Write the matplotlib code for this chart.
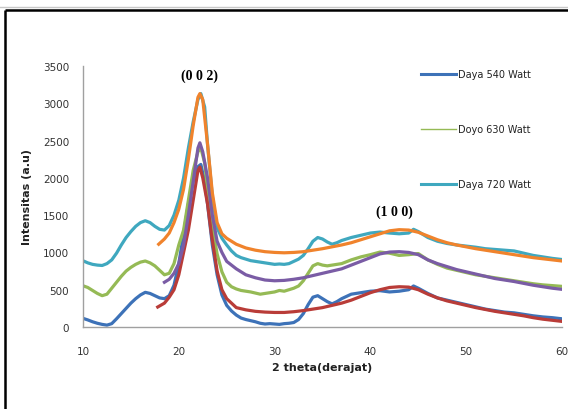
import matplotlib
matplotlib.use("Agg")
import matplotlib.pyplot as plt
from matplotlib.lines import Line2D

# raw XRD data
x540 = [10, 10.5, 11, 11.5, 12, 12.5, 13, 13.5, 14, 14.5, 15, 15.5, 16, 16.5, 17, 17.5, 18, 18.5, 19, 19.5,
        20, 20.5, 21, 21.5, 22, 22.3, 22.7, 23, 23.5, 24, 24.5, 25, 25.5, 26, 26.5, 27, 27.5, 28, 28.5, 29,
        29.5, 30, 30.5, 31, 31.5, 32, 32.5, 33, 33.5, 34, 34.5, 35, 35.5, 36, 36.5, 37, 38, 39, 40, 41,
        42, 43, 44, 44.5, 45, 46, 47, 48, 49, 50, 51, 52, 53, 54, 55, 56, 57, 58, 59, 60]
y540 = [116, 95, 70, 50, 35, 25, 45, 110, 180, 250, 320, 380, 430, 465, 450, 420, 390, 380, 420, 560,
        850, 1250, 1650, 1950, 2150, 2180, 1950, 1650, 1100, 700, 430, 290, 215, 160, 120, 100, 85, 70, 50, 40,
        45, 40, 35, 45, 50, 60, 100, 180, 300, 400, 420, 380, 340, 310, 340, 380, 440, 460, 480, 487,
        470, 480, 500, 550, 520, 450, 390, 360, 330, 300, 270, 240, 220, 200, 190, 170, 150, 135, 125, 110]

x630 = [10, 10.5, 11, 11.5, 12, 12.5, 13, 13.5, 14, 14.5, 15, 15.5, 16, 16.5, 17, 17.5, 18, 18.5, 19, 19.5,
        20, 20.5, 21, 21.5, 22, 22.3, 22.7, 23, 23.5, 24, 24.5, 25, 25.5, 26, 26.5, 27, 27.5, 28, 28.5, 29,
        29.5, 30, 30.5, 31, 31.5, 32, 32.5, 33, 33.5, 34, 34.5, 35, 35.5, 36, 37, 38, 39, 40, 41, 42,
        43, 44, 45, 46, 47, 48, 49, 50, 51, 52, 53, 54, 55, 56, 57, 58, 59, 60]
y630 = [553, 530, 490, 450, 420, 440, 520, 600, 680, 750, 800, 840, 870, 885, 860, 820, 760, 700, 720, 850,
        1100, 1300, 1700, 2100, 2350, 2400, 2200, 1850, 1350, 980, 740, 600, 540, 510, 490, 480, 470, 455, 440, 450,
        460, 470, 490, 480, 500, 520, 550, 620, 720, 820, 850, 830, 820, 830, 850, 900, 940, 970, 1005, 990,
        960, 970, 985, 900, 840, 790, 760, 730, 700, 680, 660, 640, 620, 600, 580, 565, 555, 545]

x720 = [10, 10.5, 11, 11.5, 12, 12.5, 13, 13.5, 14, 14.5, 15, 15.5, 16, 16.5, 17, 17.5, 18, 18.5, 19, 19.5,
        20, 20.5, 21, 21.5, 22, 22.3, 22.7, 23, 23.5, 24, 24.5, 25, 25.5, 26, 26.5, 27, 27.5, 28, 28.5, 29,
        29.5, 30, 30.5, 31, 31.5, 32, 32.5, 33, 33.5, 34, 34.5, 35, 35.5, 36, 36.5, 37, 38, 39, 40, 41,
        42, 43, 44, 44.5, 45, 46, 47, 48, 49, 50, 51, 52, 53, 54, 55, 56, 57, 58, 59, 60]
y720 = [888, 860, 840, 830, 825, 850, 900, 990, 1100, 1200, 1280, 1350, 1400, 1425, 1400, 1350, 1310, 1300, 1360, 1500,
        1700, 2000, 2400, 2750, 3050, 3130, 2950, 2450, 1750, 1330, 1190, 1100, 1020, 960, 930, 910, 890, 880, 870, 860,
        850, 840, 845, 840, 850, 880, 910, 960, 1050, 1150, 1200, 1180, 1140, 1110, 1130, 1160, 1200, 1230, 1260, 1273,
        1260, 1250, 1260, 1310, 1280, 1200, 1150, 1120, 1100, 1085, 1070, 1050, 1040, 1030, 1020, 990, 960, 940, 920, 905]

# fitted curves
xf540 = [17.8, 18.5, 19, 19.5, 20, 20.5, 21, 21.5, 22, 22.2, 22.5, 23, 23.4, 24, 24.5, 25, 26, 27, 28, 29,
         30, 31, 32, 33, 34, 35, 36, 37, 38, 39, 40, 41, 42, 43, 44, 45, 46, 47, 48, 49,
         50, 51, 52, 53, 54, 55, 56, 57, 58, 59, 60]
yf540 = [268, 320, 400, 500, 700, 1000, 1300, 1700, 2100, 2145, 2000, 1650, 1250, 750, 500, 380, 260, 230, 210, 200,
         195, 195, 205, 220, 240, 260, 290, 320, 360, 410, 460, 500, 530, 540, 535, 500, 440, 390, 350, 320,
         290, 260, 235, 210, 190, 170, 150, 125, 105, 90, 75]

xf630 = [18.5, 19, 19.5, 20, 20.5, 21, 21.5, 22, 22.2, 22.5, 23, 23.5, 24, 24.5, 25, 26, 27, 28, 29, 30,
         31, 32, 33, 34, 35, 36, 37, 38, 39, 40, 41, 42, 43, 44, 45, 46, 47, 48, 49, 50,
         51, 52, 53, 54, 55, 56, 57, 58, 59, 60]
yf630 = [600, 640, 720, 850, 1100, 1500, 1950, 2400, 2470, 2350, 2000, 1500, 1150, 1000, 880, 780, 700, 660, 630, 620,
         625, 640, 660, 690, 720, 750, 780, 830, 880, 930, 980, 1005, 1010, 1000, 970, 900, 850, 810, 770, 740,
         710, 680, 650, 630, 610, 585, 560, 540, 520, 505]

xf720 = [17.9, 18.5, 19, 19.5, 20, 20.5, 21, 21.5, 22, 22.2, 22.5, 23, 23.5, 24, 24.5, 25, 25.5, 26, 27, 28,
         29, 30, 31, 32, 33, 34, 35, 36, 37, 38, 39, 40, 41, 42, 43, 44, 45, 46, 47, 48,
         49, 50, 51, 52, 53, 54, 55, 56, 57, 58, 59, 60]
yf720 = [1110, 1180, 1260, 1400, 1580, 1850, 2250, 2700, 3080, 3130, 3050, 2450, 1800, 1400, 1250, 1190, 1150, 1110, 1060, 1030,
         1010, 1000, 995, 1000, 1010, 1030, 1050, 1075, 1100, 1130, 1170, 1210, 1250, 1290, 1305, 1300, 1270, 1220, 1170, 1130,
         1100, 1075, 1050, 1030, 1010, 990, 970, 950, 930, 915, 900, 885]

labels = ["Daya 540 Watt", "Doyo 630 Watt", "Daya 720 Watt"]

c_blue = "#3D72B8"
c_green = "#95BA55"
c_cyan = "#3FA8BF"
c_red = "#B93C38"
c_purple = "#7A5CA5"
c_orange = "#F0832C"

fig = plt.figure(figsize=(5.68, 4.10), dpi=100)
ax = fig.add_axes([83/568, 1 - 328/410, (562 - 83)/568, (328 - 67)/410])

lw = 2.3
ax.plot(x540, y540, color=c_blue, lw=lw, solid_joinstyle="round")
ax.plot(x630, y630, color=c_green, lw=lw, solid_joinstyle="round")
ax.plot(x720, y720, color=c_cyan, lw=lw, solid_joinstyle="round")
ax.plot(xf540, yf540, color=c_red, lw=lw)
ax.plot(xf630, yf630, color=c_purple, lw=lw)
ax.plot(xf720, yf720, color=c_orange, lw=lw)

ax.set_xlim(10, 60)
ax.set_ylim(0, 3500)
ax.set_xticks([10, 20, 30, 40, 50, 60])
ax.set_yticks(range(0, 3501, 500))
ax.tick_params(length=0, labelsize=7.5, colors="#333333", pad=10)
ax.tick_params(axis="x", pad=14)
for s in ["top", "right"]:
    ax.spines[s].set_visible(False)
for s in ["left", "bottom"]:
    ax.spines[s].set_color("#A0A0A0")
    ax.spines[s].set_linewidth(1)

ax.set_xlabel("2 theta(derajat)", fontsize=8, fontweight="bold", color="#222222", labelpad=4)
ax.set_ylabel("Intensitas (a.u)", fontsize=8, fontweight="bold", color="#222222", labelpad=8)

ax.text(22.2, 3370, "(0 0 2)", ha="center", va="center", fontsize=10, fontweight="bold",
        family="Liberation Serif")
ax.text(42.5, 1550, "(1 0 0)", ha="center", va="center", fontsize=10, fontweight="bold",
        family="Liberation Serif")

# legend drawn by hand (three entries, widely spaced)
leg_y = [75, 130, 185]
leg_c = [c_blue, c_green, c_cyan]
leg_w = [2.2, 1.0, 2.2]
for yy, cc, ww, lab in zip(leg_y, leg_c, leg_w, labels):
    fy = 1 - yy / 410
    fig.add_artist(Line2D([421/568, 456/568], [fy, fy], color=cc, lw=ww))
    fig.text(458/568, fy, lab, fontsize=7, va="center", ha="left", color="#222222")

# chart frame: light line on top, black border left and top only
fig.add_artist(Line2D([0, 1.05], [1 - 8/410, 1 - 8/410], color="#C8C8C8", lw=1))
fig.add_artist(Line2D([5/568, 5/568], [-0.05, 1 - 11/410], color="black", lw=1.8,
                      solid_capstyle="butt"))
fig.add_artist(Line2D([5/568, 1.05], [1 - 11/410, 1 - 11/410], color="black", lw=1.8,
                      solid_capstyle="butt"))

fig.savefig("out.png", dpi=100, facecolor="white")
